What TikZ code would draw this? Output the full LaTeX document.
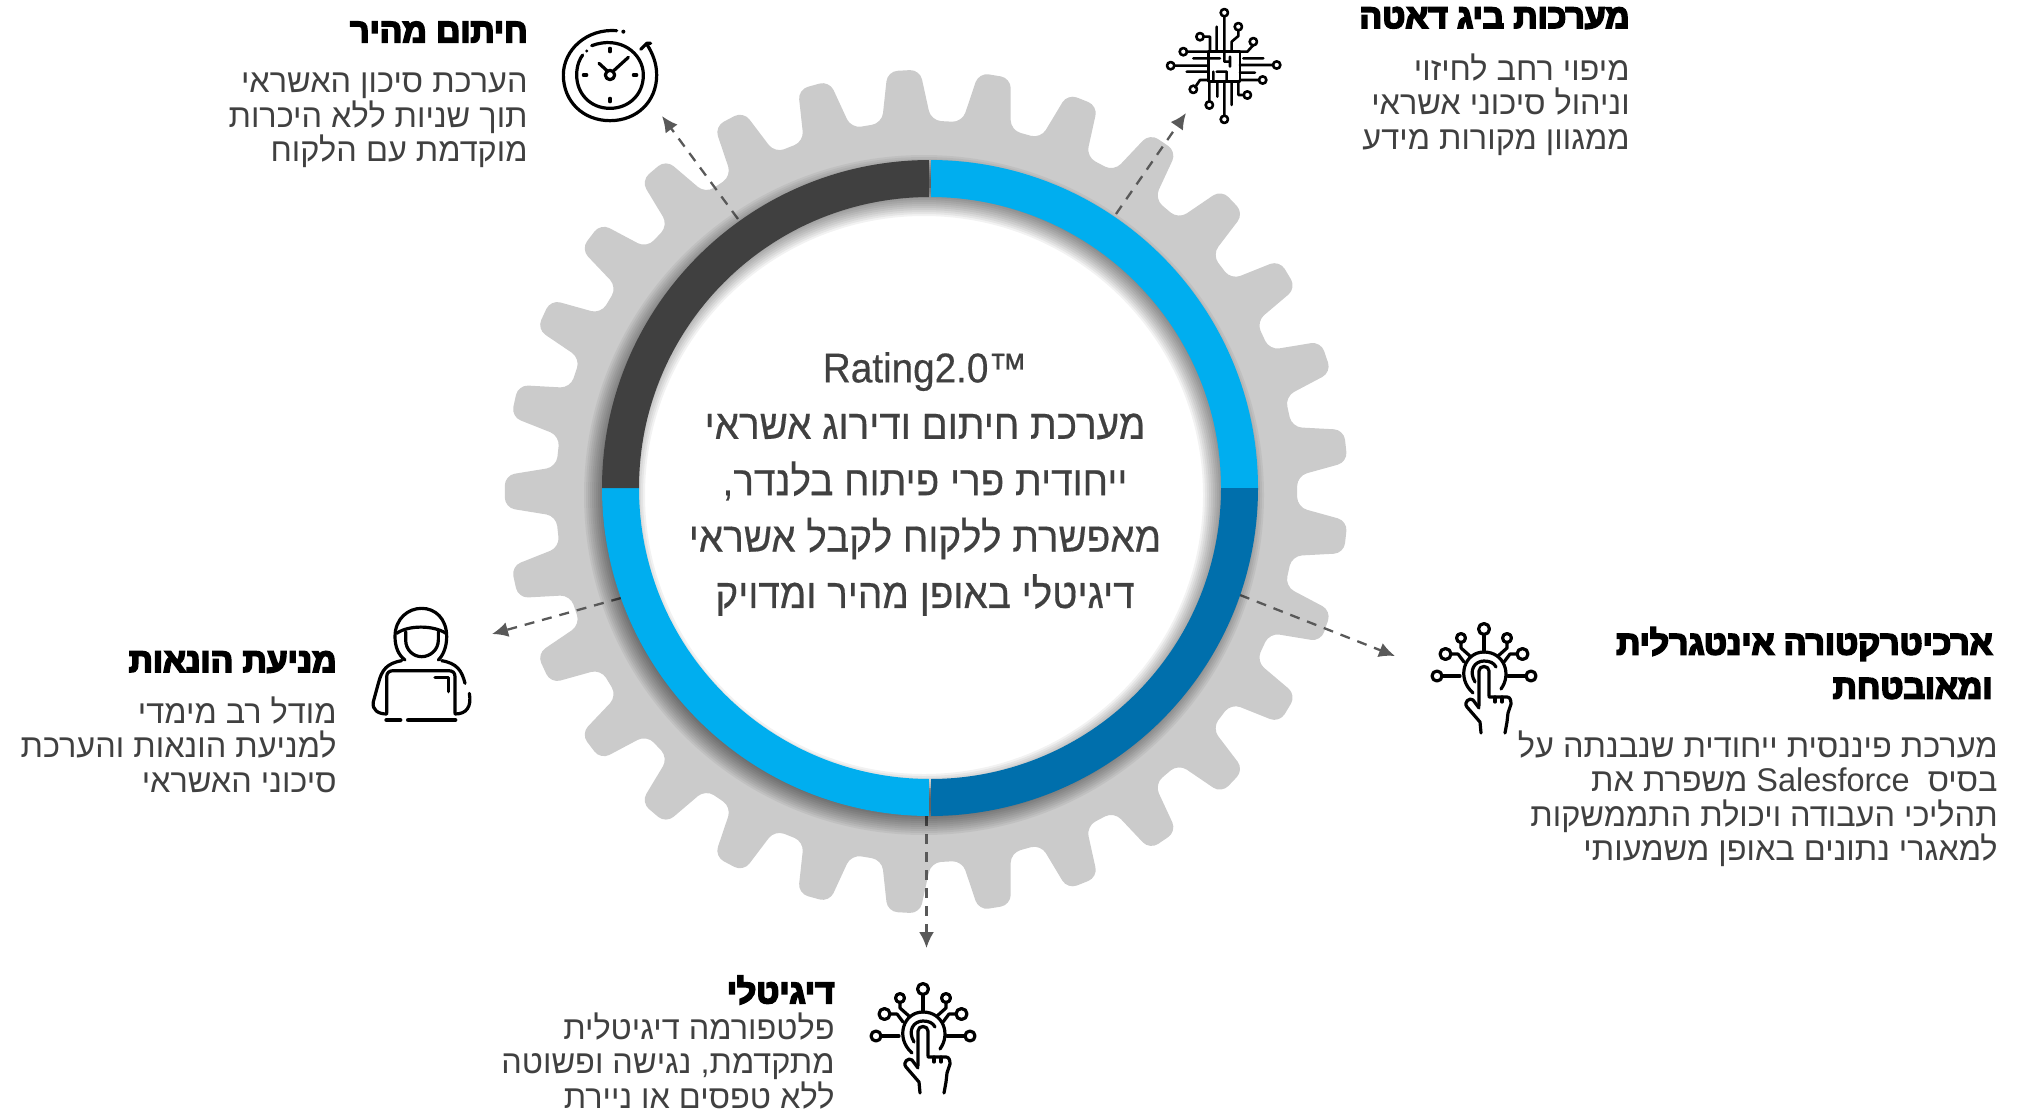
\documentclass[tikz,border=0pt]{standalone}
\usepackage{fontspec}
\usetikzlibrary{arrows.meta}
\TeXXeTstate=1
\newfontfamily\hb[Script=Hebrew,FakeStretch=0.99]{Liberation Sans}
\newfontfamily\hbc[Script=Hebrew,FakeStretch=0.93,FakeBold=0.4]{Liberation Sans}
\newfontfamily\hbb[Script=Hebrew,FakeBold=5.5,FakeStretch=1.0]{Liberation Sans Bold}
\newcommand\rtl[1]{\beginR #1\endR}
\definecolor{gearc}{HTML}{CBCBCB}
\definecolor{skyc}{HTML}{00AEEF}
\definecolor{deepc}{HTML}{006FAC}
\definecolor{darkc}{HTML}{404040}
\definecolor{connc}{HTML}{595959}
\tikzset{
  conn/.style={draw=connc,line width=1.15pt,dash pattern=on 5pt off 4pt,-{Latex[length=8pt,width=7.5pt]}},
  headtxt/.style={anchor=east,inner sep=0pt,text=black,font=\fontsize{16.8}{22}\hbb,align=right},
  bodytxt/.style={anchor=north east,inner sep=0pt,text=darkc,font=\fontsize{16.4}{17.3}\hb,align=right},
  centertxt/.style={anchor=center,inner sep=0pt,text=darkc,font=\fontsize{20.8}{28.2}\hbc,align=center},
  iconline/.style={draw=black,line width=1.6pt,line cap=round,line join=round},
  thinicon/.style={draw=black,line width=1.3pt,line cap=round,line join=round},
  touchicon/.pic={
    \draw[iconline] (-11,17) .. controls (-28,2) and (-20,-24) .. (0,-24) .. controls (20,-24) and (28,-2) .. (17,13);
    \draw[iconline] (-9,6) .. controls (-16,-6) and (-9,-15) .. (0,-15) .. controls (6,-15) and (10,-13) .. (12,-9);
    \draw[iconline] (-5,30) -- (-5,-5) .. controls (-5,-11) and (5,-11) .. (5,-5) -- (5,20);
    \draw[iconline] (5,21) -- (23,21) .. controls (26,21) and (27,24) .. (27,28) -- (24,37) -- (23,46) -- (21,57);
    \draw[iconline] (-5,32) -- (-11,24) .. controls (-14,21) and (-21,26) .. (-17,31) -- (-4,46) -- (-3,57);
    \draw[iconline] (11,21) -- (11,26) (18,21) -- (18,26);
    \draw[iconline] (-24,0) -- (-42,0) (24,0) -- (42,0) (0,-24) -- (0,-41);
    \draw[iconline] (-14,-20) -- (-23,-28) -- (-23,-33) (14,-20) -- (23,-28) -- (23,-33);
    \draw[iconline] (-20,-14) -- (-26,-22) -- (-33,-22) (20,-14) -- (26,-22) -- (33,-22);
    \draw[iconline] (-47,0) circle[radius=5] (47,0) circle[radius=5] (0,-47) circle[radius=5.5]
      (-23,-38) circle[radius=4.5] (23,-38) circle[radius=4.5] (-38.5,-22) circle[radius=5.5] (38.5,-22) circle[radius=5.5];
  }
}
\begin{document}
\begin{tikzpicture}[x=0.5pt,y=-0.5pt]
\useasboundingbox (0,0) rectangle (2024,1114);
% gear
\begin{scope}[shift={(926.5,491.5)}]
\fill[gearc,rounded corners=5pt] (173.8:371)
  \foreach \k in {0,...,28}{
    -- ({180+\k*12.4138-3.8}:371) -- ({180+\k*12.4138-2.2}:422)
    -- ({180+\k*12.4138+2.2}:422) -- ({180+\k*12.4138+3.8}:371)
  } -- cycle;
\end{scope}
% connectors
\coordinate (c1a) at (738,219);  \coordinate (c1b) at (662,116);
\coordinate (c2a) at (1116,214); \coordinate (c2b) at (1186,113);
\coordinate (c3a) at (1240,595); \coordinate (c3b) at (1395,656);
\coordinate (c4a) at (926.5,816);\coordinate (c4b) at (926.5,948);
\coordinate (c5a) at (621,598);  \coordinate (c5b) at (492,634);
\draw[conn] (c1a) -- (c1b);
\draw[conn] (c2a) -- (c2b);
\draw[conn] (c3a) -- (c3b);
\draw[conn] (c4a) -- (c4b);
\draw[conn] (c5a) -- (c5b);
% disc and shadow
\fill[white] (930,488) circle[radius=300];
\foreach \s in {-12,-10,...,12}{
  \fill[black,opacity=.05,even odd rule] (924,495) circle[radius=328+\s] (924,495) circle[radius=291-\s];
}
% ring
\begin{scope}[shift={(930,488)}]
\fill[skyc]  (-89.8:328) arc[start angle=-89.8,end angle=0,radius=328] -- (0:291) arc[start angle=0,end angle=-89.8,radius=291] -- cycle;
\fill[deepc] (0:328) arc[start angle=0,end angle=89.8,radius=328] -- (89.8:291) arc[start angle=89.8,end angle=0,radius=291] -- cycle;
\fill[skyc]  (90.2:328) arc[start angle=90.2,end angle=180,radius=328] -- (180:291) arc[start angle=180,end angle=90.2,radius=291] -- cycle;
\fill[darkc] (180:328) arc[start angle=180,end angle=269.8,radius=328] -- (269.8:291) arc[start angle=269.8,end angle=180,radius=291] -- cycle;
\end{scope}
% centre text
\node[centertxt] (centre) at (925,484) {Rating2.0™\\ \rtl{מערכת חיתום ודירוג אשראי}\\ \rtl{ייחודית פרי פיתוח בלנדר,}\\ \rtl{מאפשרת ללקוח לקבל אשראי}\\ \rtl{דיגיטלי באופן מהיר ומדויק}};
% texts
\node[headtxt] (h1) at (528,32) {\rtl{חיתום מהיר}};
\node[bodytxt] (b1) at (528,72.5) {\rtl{הערכת סיכון האשראי}\\ \rtl{תוך שניות ללא היכרות}\\ \rtl{מוקדמת עם הלקוח}};
\node[headtxt] (h2) at (1630,18) {\rtl{מערכות ביג דאטה}};
\node[bodytxt] (b2) at (1630,53) {\rtl{מיפוי רחב לחיזוי}\\ \rtl{וניהול סיכוני אשראי}\\ \rtl{ממגוון מקורות מידע}};
\node[headtxt] (h3) at (1993,663) {\rtl{ארכיטרקטורה אינטגרלית}\\ \rtl{ומאובטחת}};
\node[bodytxt] (b3) at (1998,730) {\rtl{מערכת פיננסית ייחודית שנבנתה על}\\ \rtl{בסיס\ \ \beginL Salesforce\endL{} משפרת את}\\ \rtl{תהליכי העבודה ויכולת התממשקות}\\ \rtl{למאגרי נתונים באופן משמעותי}};
\node[headtxt] (h4) at (337,662) {\rtl{מניעת הונאות}};
\node[bodytxt] (b4) at (337,696) {\rtl{מודל רב מימדי}\\ \rtl{למניעת הונאות והערכת}\\ \rtl{סיכוני האשראי}};
\node[headtxt] (h5) at (835,990) {\rtl{דיגיטלי}};
\node[bodytxt] (b5) at (835,1012) {\rtl{פלטפורמה דיגיטלית}\\ \rtl{מתקדמת, נגישה ופשוטה}\\ \rtl{ללא טפסים או ניירת}};
% clock icon
\begin{scope}[shift={(200,0)},x=0.16667pt,y=-0.16667pt]
\draw[iconline] (1250,92) .. controls (1160,85) and (1090,150) .. (1090,225) .. controls (1090,305) and (1150,362) .. (1230,362) .. controls (1310,362) and (1370,305) .. (1370,225) .. controls (1370,190) and (1358,160) .. (1340,132);
\draw[iconline] (1322,148) -- (1340,130) -- (1352,130);
\draw[iconline] (1175,137) .. controls (1260,105) and (1330,160) .. (1330,225) .. controls (1330,285) and (1285,325) .. (1230,325) .. controls (1170,325) and (1130,280) .. (1130,225) .. controls (1130,195) and (1140,175) .. (1148,165);
\fill[black] (1270,95) circle[radius=6] (1160,153) circle[radius=5];
\draw[iconline] (1230,225) circle[radius=14];
\draw[iconline] (1222,213) -- (1197,190) (1240,213) -- (1285,172);
\draw[iconline] (1230,145) -- (1230,155) (1230,295) -- (1230,305) (1150,225) -- (1160,225) (1300,225) -- (1310,225);
\end{scope}
% chip icon
\begin{scope}[shift={(1130,0)},x=0.16667pt,y=-0.16667pt]
\draw[thinicon] (235,155) rectangle (330,245);
\draw[thinicon] (283,50) -- (283,155) (325,90) -- (325,108) -- (305,125) -- (305,155) (222,110) -- (240,110) -- (240,155)
  (260,80) -- (260,155) (370,135) -- (352,155) -- (330,155) (170,155) -- (235,155)
  (340,175) -- (400,175) (330,195) -- (430,195) (135,197) -- (235,197) (190,175) -- (270,175) (170,215) -- (235,215)
  (330,218) -- (375,218) (330,240) -- (385,240) (195,262) -- (210,240) -- (235,240)
  (342,285) -- (325,285) -- (325,245) (238,305) -- (238,245) (283,345) -- (283,245) (262,245) -- (262,290) (305,245) -- (305,315)
  (283,155) -- (283,185) -- (300,185) (300,200) -- (300,170) (260,215) -- (290,215) -- (290,245) (250,215) -- (250,245);
\draw[thinicon] (283,38) circle[radius=11] (325,80) circle[radius=11] (210,110) circle[radius=11] (370,125) circle[radius=11]
  (160,155) circle[radius=11] (440,195) circle[radius=11] (122,197) circle[radius=11] (398,240) circle[radius=11]
  (190,268) circle[radius=11] (352,285) circle[radius=11] (238,315) circle[radius=11] (283,358) circle[radius=11];
\end{scope}
% touch icons
\pic (ti1) at (1484,676) {touchicon};
\pic (ti2) at (923,1036) {touchicon};
% person icon
\begin{scope}[shift={(0,590)},x=0.16667pt,y=-0.16667pt]
\draw[iconline] (1215,210) .. controls (1195,195) and (1185,170) .. (1185,140) .. controls (1185,85) and (1225,55) .. (1265,55) .. controls (1305,55) and (1340,85) .. (1340,140) .. controls (1340,170) and (1330,195) .. (1315,210);
\draw[iconline] (1190,130) .. controls (1225,105) and (1300,105) .. (1338,130);
\draw[iconline] (1217,125) -- (1217,150) .. controls (1217,180) and (1240,200) .. (1265,200) .. controls (1290,200) and (1315,180) .. (1315,150) -- (1315,125);
\draw[iconline] (1205,212) .. controls (1160,220) and (1145,240) .. (1135,280) -- (1120,335) .. controls (1115,360) and (1135,372) .. (1160,372);
\draw[iconline] (1325,212) .. controls (1370,220) and (1385,240) .. (1395,280) (1408,310) .. controls (1415,350) and (1400,372) .. (1365,372);
\draw[iconline] (1160,370) -- (1160,260) .. controls (1160,248) and (1168,242) .. (1180,242) -- (1345,242) .. controls (1358,242) and (1365,248) .. (1365,260) -- (1365,370);
\draw[iconline,line width=2.4pt] (1160,390) -- (1200,390) (1225,390) -- (1365,390);
\draw[iconline] (1305,262) -- (1345,262) -- (1345,305);
\end{scope}
\end{tikzpicture}
\end{document}
